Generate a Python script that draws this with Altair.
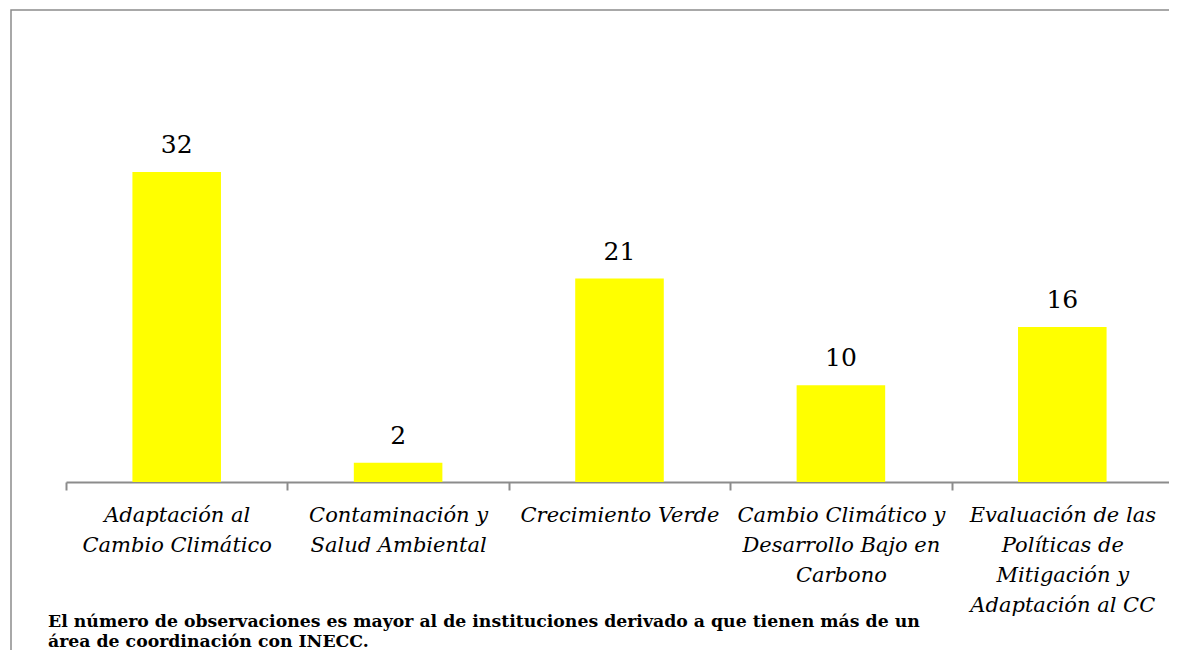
import json
import altair as alt
import pandas as pd

categories = [
    "Adaptación al Cambio Climático",
    "Contaminación y Salud Ambiental",
    "Crecimiento Verde",
    "Cambio Climático y Desarrollo Bajo en Carbono",
    "Evaluación de las Políticas de Mitigación y Adaptación al CC",
]
label_lines = [
    ["Adaptación al", "Cambio Climático"],
    ["Contaminación y", "Salud Ambiental"],
    ["Crecimiento Verde"],
    ["Cambio Climático y", "Desarrollo Bajo en", "Carbono"],
    ["Evaluación de las", "Políticas de", "Mitigación y", "Adaptación al CC"],
]
values = [32, 2, 21, 10, 16]
footnote = [
    "El número de observaciones es mayor al de instituciones derivado a que tienen más de un",
    "área de coordinación con INECC.",
]

df = pd.DataFrame({"area": categories, "n": values})
label_expr = json.dumps(dict(zip(categories, label_lines)), ensure_ascii=False) + "[datum.value]"

W, H = 1175, 655
base_y = 472

x_enc = alt.X(
    "area:N",
    sort=categories,
    scale=alt.Scale(range=[55, 1162], paddingInner=0, paddingOuter=0),
    axis=alt.Axis(
        title=None,
        labelAngle=0,
        labelExpr=label_expr,
        labelFont="DejaVu Serif",
        labelFontStyle="italic",
        labelFontSize=21,
        labelColor="black",
        labelLineHeight=30,
        labelPadding=14,
        labelLimit=0,
        tickBand="extent",
        tickSize=8,
        tickWidth=2,
        tickColor="#8c8c8c",
        domainColor="#8c8c8c",
        domainWidth=2,
        offset=base_y - H,
    ),
)
y_enc = alt.Y("n:Q", scale=alt.Scale(domain=[0, 32], range=[base_y, 162], nice=False, zero=True), axis=None)

bars = alt.Chart(df).mark_bar(color="#FFFF00", width=alt.RelativeBandSize(0.4)).encode(x=x_enc, y=y_enc)
text = alt.Chart(df).mark_text(
    font="DejaVu Serif", fontSize=25, baseline="alphabetic", dy=-19, color="black"
).encode(x=alt.X("area:N", sort=categories), y=alt.Y("n:Q"), text="n:Q")

chart = (
    (bars + text)
    .properties(
        width=W,
        height=H,
        autosize=alt.AutoSizeParams(type="none"),
        padding={"left": 3, "top": 2, "right": -17, "bottom": -15},
        title=alt.TitleParams(
            footnote,
            orient="bottom",
            anchor="start",
            offset=-52,
            dx=37,
            font="DejaVu Serif",
            fontSize=17.3,
            fontWeight="bold",
            color="black",
            lineHeight=20,
        ),
    )
    .configure_view(stroke="#8c8c8c", strokeWidth=1.5)
)

chart.save("out.html", embed_options={"renderer": "svg", "actions": False})
